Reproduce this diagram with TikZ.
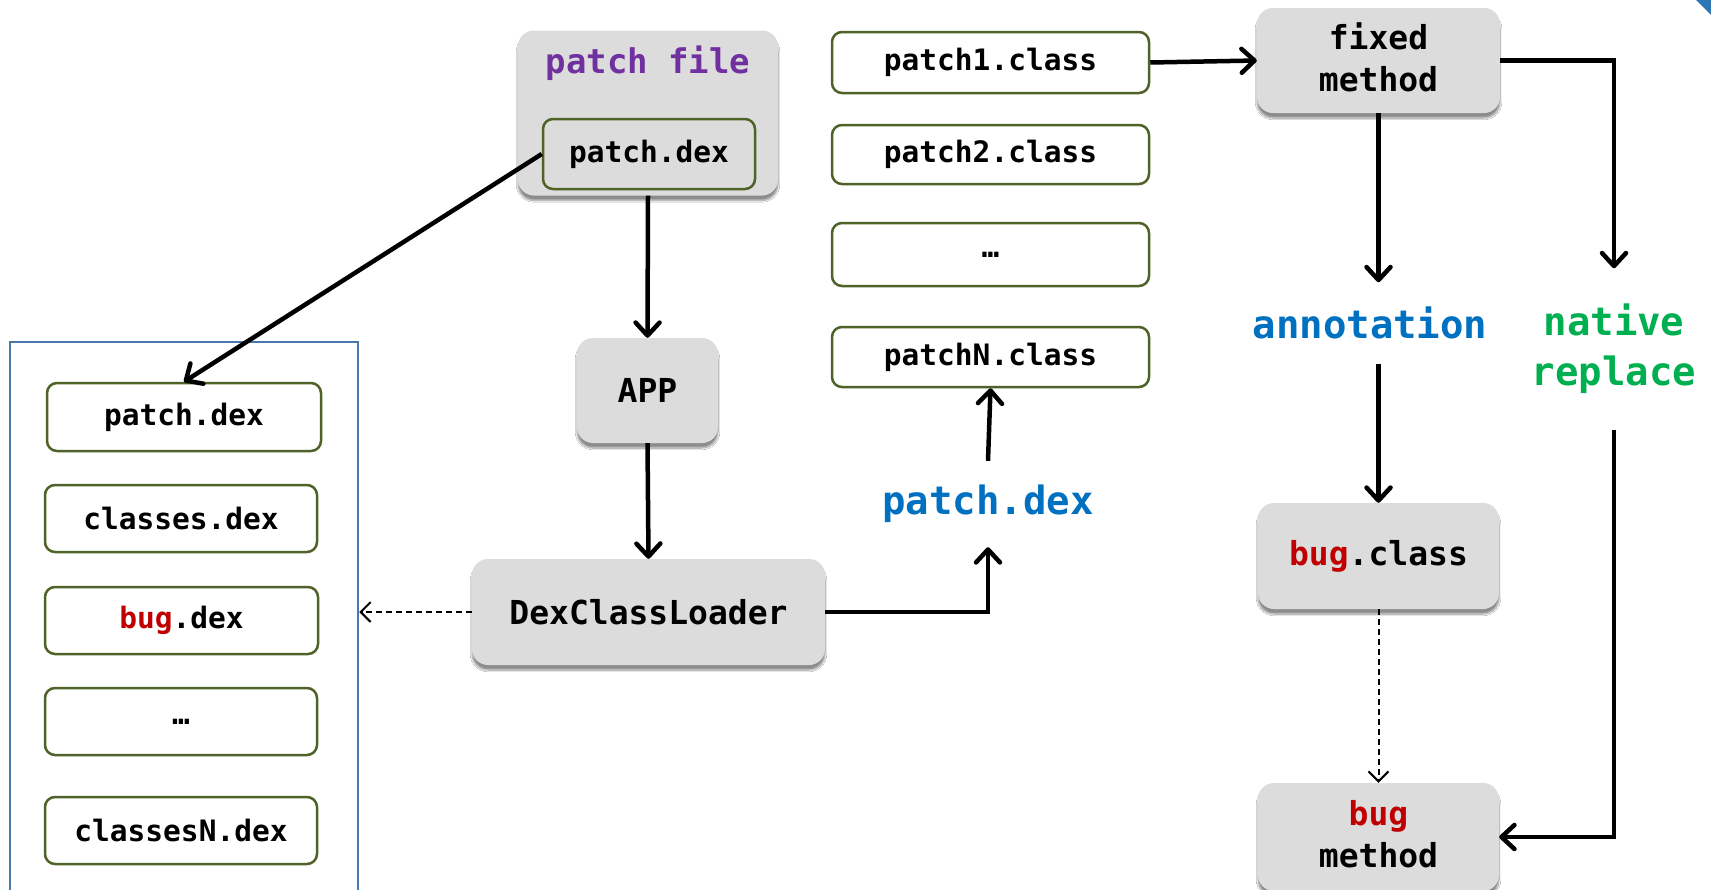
\documentclass[tikz,border=0pt]{standalone}
\usepackage{fontspec}
\setmonofont{DejaVu Sans Mono}
\usetikzlibrary{arrows.meta,shadows.blur}
\definecolor{gbord}{HTML}{4F6228}
\definecolor{gfill}{HTML}{DCDCDC}
\definecolor{cred}{HTML}{C00000}
\definecolor{cblue}{HTML}{0070C0}
\definecolor{cgreen}{HTML}{00B050}
\definecolor{cpurple}{HTML}{7030A0}
\definecolor{cbox}{HTML}{4A78AC}
\definecolor{ccorner}{HTML}{2E75B6}
\newcommand\myfgreen{\ttfamily\bfseries\fontsize{29.5}{34}\selectfont}
\newcommand\myfgray{\ttfamily\bfseries\fontsize{33}{42}\selectfont}
\newcommand\myflab{\ttfamily\bfseries\fontsize{39}{50}\selectfont}
\newcommand\myfpf{\ttfamily\bfseries\fontsize{34}{40}\selectfont}
\tikzset{
  greenbox/.style={draw=gbord, line width=2.5pt, rounded corners=10pt, fill=white, inner sep=0pt, font=\myfgreen},
  graybox/.style={fill=gfill, rounded corners=16pt, inner sep=0pt, font=\myfgray, align=center,
    blur shadow={shadow xshift=0pt, shadow yshift=-5pt, shadow blur steps=8, shadow opacity=45}},
  graytext/.style={inner sep=0pt, font=\myfgray, align=center},
  lab/.style={inner sep=0pt, font=\myflab, align=center},
  arr/.style={line width=4.5pt, -{Straight Barb[length=13pt,width=24pt,round]}},
  dasharr/.style={line width=2pt, dash pattern=on 6pt off 4pt, -{Straight Barb[length=10pt,width=20pt]}},
}
\begin{document}
\begin{tikzpicture}[x=1pt,y=-1pt]
\useasboundingbox (0,0) rectangle (1711,889);
\fill[white] (0,0) rectangle (1711,889);
% corner mark
\fill[ccorner] (1696,0) -- (1711,0) -- (1711,15) -- cycle;
% left container
\node[draw=cbox, line width=2.5pt, minimum width=348pt, minimum height=600pt, inner sep=0pt] (cont) at (184,642) {};
\node[greenbox, minimum width=274pt, minimum height=68pt] (lpd) at (184,417) {patch.dex};
\node[greenbox, minimum width=272pt, minimum height=67pt] (lcl) at (181,518.5) {classes.dex};
\node[greenbox, minimum width=273pt, minimum height=67pt] (lbug) at (181.5,620.5) {\textcolor{cred}{bug}.dex};
\node[greenbox, minimum width=272pt, minimum height=67pt] (ldots) at (181,721.5) {…};
\node[greenbox, minimum width=272pt, minimum height=67pt] (lcn) at (181,830.5) {classesN.dex};
% patch file
\node[graybox, minimum width=260pt, minimum height=165pt] (pf) at (648,113) {};
\node[inner sep=0pt, font=\myfpf, text=cpurple] (pft) at (648,63) {patch file};
\node[greenbox, fill=gfill, minimum width=212pt, minimum height=70pt] (pdin) at (649,154) {patch.dex};
% APP and loader
\node[graybox, minimum width=141pt, minimum height=105pt] (app) at (647.5,390.5) {APP};
\node[graybox, minimum width=353pt, minimum height=106pt] (dcl) at (648.5,612) {DexClassLoader};
% middle column
\node[greenbox, minimum width=317pt, minimum height=61pt] (p1) at (990.5,62.5) {patch1.class};
\node[greenbox, minimum width=317pt, minimum height=59pt] (p2) at (990.5,154.5) {patch2.class};
\node[greenbox, minimum width=317pt, minimum height=63pt] (pdots) at (990.5,254.5) {…};
\node[greenbox, minimum width=317pt, minimum height=60pt] (pn) at (990.5,357) {patchN.class};
\node[lab, text=cblue, minimum height=86pt] (bpd) at (988,504) {patch.dex};
% right part
\node[graybox, minimum width=243pt, minimum height=105pt] (fm) at (1378.5,60.5) {};
\node[graytext] (fmt) at (1378.5,57) {fixed\\method};
\node[lab, text=cblue, minimum height=81pt] (ann) at (1370,323) {annotation};
\node[lab, text=cgreen, minimum height=161pt] (nat) at (1614,349) {native\\replace};
\node[graybox, minimum width=241pt, minimum height=106pt] (bc) at (1378.5,556) {\textcolor{cred}{bug}.class};
\node[graybox, minimum width=241pt, minimum height=108pt] (bm) at (1378.5,837) {};
\node[graytext] (bmt) at (1378.5,834) {\textcolor{cred}{bug}\\method};
% connectors
\draw[arr] (pdin.west) -- (lpd.north);
\draw[arr] (pf.south) -- (app.north);
\draw[arr] (app.south) -- (dcl.north);
\draw[arr] (dcl.east) -| (bpd.south);
\draw[arr] (bpd.north) -- (pn.south);
\draw[arr] (p1.east) -- (fm.west);
\draw[arr] (fm.south) -- (fm.south |- ann.north);
\draw[arr] (fm.east) -| (nat.north);
\draw[arr] (bc.north |- ann.south) -- (bc.north);
\draw[arr] (nat.south) |- (bm.east);
\draw[dasharr] (bc.south) -- (bm.north);
\draw[dasharr] (dcl.west) -- (dcl.west -| cont.east);
\end{tikzpicture}
\end{document}
